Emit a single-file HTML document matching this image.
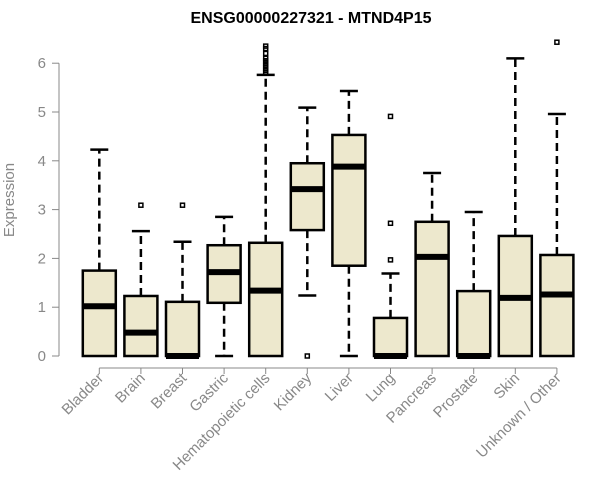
<!DOCTYPE html>
<html><head><meta charset="utf-8"><style>
body{margin:0;background:#fff;}
svg{display:block;font-family:"Liberation Sans",Arial,sans-serif;}
</style></head><body>
<svg id="chart" width="600" height="500">
<text x="311" y="23" text-anchor="middle" font-weight="bold" font-size="16">ENSG00000227321 - MTND4P15</text>
<text transform="translate(14,200) rotate(-90)" text-anchor="middle" font-size="15" fill="#888">Expression</text>
<g id="g"></g>
</svg>
<script>
const categories=["Bladder","Brain","Breast","Gastric","Hematopoietic cells","Kidney","Liver","Lung","Pancreas","Prostate","Skin","Unknown / Other"];
const lowW=[0,0,0,0,0,1.24,0,0,0,0,0,0];
const q1=[0,0,0,1.09,0,2.58,1.85,0,0,0,0,0];
const med=[1.02,0.48,0,1.72,1.34,3.42,3.88,0,2.03,0,1.19,1.26];
const q3=[1.75,1.23,1.11,2.27,2.32,3.95,4.53,0.78,2.75,1.33,2.46,2.07];
const highW=[4.23,2.56,2.34,2.85,5.76,5.09,5.43,1.69,3.75,2.95,6.1,4.96];
const outliers=[[],[3.09],[3.09],[],[5.8,5.85,5.9,5.95,6.0,6.05,6.1,6.2,6.3,6.35],[0],[],[4.91,2.72,1.97],[],[],[],[6.43]];
const yTicks=[0,1,2,3,4,5,6];
const NS="http://www.w3.org/2000/svg";
const g=document.getElementById('g');
const y=v=>356-v*48.8;
const x=i=>99.3+i*41.6;
function mk(t,a,p){const e=document.createElementNS(NS,t);for(const k in a)e.setAttribute(k,a[k]);(p||g).appendChild(e);return e;}
let ax=mk('line',{x1:59,x2:59,y1:y(0),y2:y(6),stroke:'#888'});

yTicks.forEach(v=>{
 let t=mk('line',{x1:52,x2:59,y1:y(v),y2:y(v),stroke:'#888'});
 
 let l=mk('text',{x:46,y:y(v)+5,'text-anchor':'end','font-size':15,fill:'#888'});l.textContent=v;
 
});
let xa=mk('line',{x1:x(0),x2:x(11),y1:368,y2:368,stroke:'#888'});

categories.forEach((c,i)=>{
 const cx=x(i);
 let t=mk('line',{x1:cx,x2:cx,y1:368,y2:374,stroke:'#888'});
 
 let l=mk('text',{transform:`translate(${cx+5},${379}) rotate(-45)`,'text-anchor':'end','font-size':15,fill:'#888'});l.textContent=c;
 
 const grp=mk('g',{});
 
 
 const ws={stroke:'#000','stroke-width':2.5,'stroke-dasharray':'8,5'};
 if(highW[i]>q3[i])mk('line',Object.assign({x1:cx,x2:cx,y1:y(q3[i]),y2:y(highW[i])},ws),grp);
 if(q1[i]>lowW[i])mk('line',Object.assign({x1:cx,x2:cx,y1:y(q1[i]),y2:y(lowW[i])},ws),grp);
 mk('line',{x1:cx-9,x2:cx+9,y1:y(highW[i]),y2:y(highW[i]),stroke:'#000','stroke-width':2.5},grp);
 if(q1[i]>lowW[i])mk('line',{x1:cx-9,x2:cx+9,y1:y(lowW[i]),y2:y(lowW[i]),stroke:'#000','stroke-width':2.5},grp);
 mk('rect',{x:cx-16.5,y:y(q3[i]),width:33,height:y(q1[i])-y(q3[i]),fill:'#ede8cd',stroke:'#000','stroke-width':2.5},grp);
 mk('line',{x1:cx-16.5,x2:cx+16.5,y1:y(med[i]),y2:y(med[i]),stroke:'#000','stroke-width':6},grp);
 outliers[i].forEach(o=>mk('rect',{x:cx-2,y:y(o)-2,width:4,height:4,fill:'none',stroke:'#000','stroke-width':1.5},grp));
});
</script>
</body></html>
